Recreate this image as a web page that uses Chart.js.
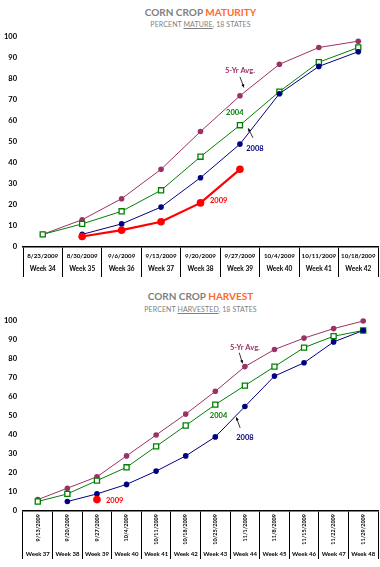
<!DOCTYPE html>
<html>
<head>
<meta charset="utf-8">
<script src="https://cdn.jsdelivr.net/npm/chart.js@4"></script>
<style>
  body { margin: 0; background: #fff; width: 380px; height: 567px; overflow: hidden; position: relative; font-family: Lato, sans-serif; }
  canvas { position: absolute; left: 0; }
  .title { position: absolute; left: 23px; width: 355px; text-align: center; font-weight: bold; font-size: 10px; color: #7f7f7f; line-height: 12px; }
  .title span { color: #ff6a2b; }
  .sub { position: absolute; left: 23px; width: 355px; text-align: center; font-size: 7px; color: #7f7f7f; line-height: 10px; letter-spacing: 0.1px; }
  .sub u { text-decoration: underline; }
</style>
</head>
<body>
<div class="title" style="top:6px">CORN CROP <span>MATURITY</span></div>
<div class="sub" style="top:19px">PERCENT <u>MATURE</u>, 18 STATES</div>
<canvas id="maturity" width="380" height="283" style="top:0"></canvas>

<div class="title" style="top:290px">CORN CROP <span>HARVEST</span></div>
<div class="sub" style="top:304px">PERCENT <u>HARVESTED</u>, 18 STATES</div>
<canvas id="harvest" width="380" height="284" style="top:283px"></canvas>

<script>
// maturity, weeks 34-42
const matWeeks = ['Week 34', 'Week 35', 'Week 36', 'Week 37', 'Week 38', 'Week 39', 'Week 40', 'Week 41', 'Week 42'];
const matDates = ['8/23/2009', '8/30/2009', '9/6/2009', '9/13/2009', '9/20/2009', '9/27/2009', '10/4/2009', '10/11/2009', '10/18/2009'];
const matAvg = [6, 13, 23, 37, 55, 72, 87, 95, 98];
const mat2004 = [6, 11, 17, 27, 43, 58, 74, 88, 95];
const mat2008 = [null, 6, 11, 19, 33, 49, 73, 86, 93];
const mat2009 = [null, 5, 8, 12, 21, 37, null, null, null];

// harvest, weeks 37-48
const harWeeks = ['Week 37', 'Week 38', 'Week 39', 'Week 40', 'Week 41', 'Week 42', 'Week 43', 'Week 44', 'Week 45', 'Week 46', 'Week 47', 'Week 48'];
const harDates = ['9/13/2009', '9/20/2009', '9/27/2009', '10/4/2009', '10/11/2009', '10/18/2009', '10/25/2009', '11/1/2009', '11/8/2009', '11/15/2009', '11/22/2009', '11/29/2009'];
const harAvg = [6, 12, 18, 29, 40, 51, 63, 76, 85, 91, 96, 100];
const har2004 = [5, 9, 16, 23, 34, 45, 56, 66, 76, 86, 92, 95];
const har2008 = [null, 5, 9, 14, 21, 29, 39, 55, 71, 78, 89, 95];
const har2009 = [null, null, 6, null, null, null, null, null, null, null, null, null];

const C_AVG = '#993366';
const C_04 = '#008000';
const C_08 = '#000080';
const C_09 = '#ff0000';

const FONT = 'Lato, sans-serif';

// draws the date / week table under the plot and the series notes
const tablePlugin = (cfg) => ({
    id: 'tableAxis',
    afterDraw(chart) {
        const ctx = chart.ctx;
        const x = chart.scales.x, y = chart.scales.y;
        ctx.save();
        ctx.fillStyle = '#000';
        ctx.textBaseline = 'middle';
        cfg.dates.forEach((d, i) => {
            const px = x.getPixelForValue(i);
            if (cfg.rotate) {
                ctx.font = 'bold 5.5px ' + FONT;
                ctx.save();
                ctx.translate(px, x.top + cfg.dateY);
                ctx.rotate(-Math.PI / 2);
                ctx.textAlign = 'right';
                ctx.fillText(d, 0, 0);
                ctx.restore();
            } else {
                ctx.font = 'bold 6.2px ' + FONT;
                ctx.textAlign = 'center';
                ctx.fillText(d, px, x.top + cfg.dateY);
            }
            ctx.font = 'bold ' + cfg.weekSize + 'px ' + FONT;
            ctx.textAlign = 'center';
            ctx.fillText(cfg.weeks[i], px, x.top + cfg.weekY);
        });

        // notes
        ctx.font = 'bold 7.5px ' + FONT;
        cfg.notes.forEach(n => {
            ctx.fillStyle = n.color;
            ctx.textAlign = 'center';
            ctx.fillText(n.text, x.getPixelForValue(n.at[0]), y.getPixelForValue(n.at[1]));
            if (n.arrow) {
                const x1 = x.getPixelForValue(n.arrow[0]), y1 = y.getPixelForValue(n.arrow[1]);
                const x2 = x.getPixelForValue(n.arrow[2]), y2 = y.getPixelForValue(n.arrow[3]);
                ctx.strokeStyle = '#000';
                ctx.lineWidth = 0.8;
                ctx.beginPath();
                ctx.moveTo(x1, y1);
                ctx.lineTo(x2, y2);
                ctx.stroke();
                const a = Math.atan2(y2 - y1, x2 - x1);
                ctx.fillStyle = '#000';
                ctx.beginPath();
                ctx.moveTo(x2, y2);
                ctx.lineTo(x2 - 3.5 * Math.cos(a - 0.45), y2 - 3.5 * Math.sin(a - 0.45));
                ctx.lineTo(x2 - 3.5 * Math.cos(a + 0.45), y2 - 3.5 * Math.sin(a + 0.45));
                ctx.closePath();
                ctx.fill();
            }
        });
        ctx.restore();
    }
});

const makeSets = (avg, d04, d08, d09) => [
    { label: '2009', data: d09, borderColor: C_09, backgroundColor: C_09, borderWidth: 2.2,
      pointStyle: 'circle', pointRadius: 3.8, pointBorderWidth: 0, clip: false },
    { label: '2008', data: d08, borderColor: C_08, backgroundColor: C_08, borderWidth: 1,
      pointStyle: 'circle', pointRadius: 2.8, pointBorderWidth: 0, clip: false },
    { label: '2004', data: d04, borderColor: C_04, backgroundColor: '#fff', borderWidth: 1,
      pointStyle: 'rect', pointRadius: 3.6, pointBorderWidth: 1.3, pointBorderColor: C_04, clip: false },
    { label: '5-Yr Avg.', data: avg, borderColor: C_AVG, backgroundColor: C_AVG, borderWidth: 1,
      pointStyle: 'circle', pointRadius: 2.8, pointBorderWidth: 0, clip: false }
];

const makeChart = (id, labels, sets, padding, axisHeight, cfg) => new Chart(document.getElementById(id), {
    type: 'line',
    data: { labels: labels, datasets: sets },
    options: {
        responsive: false,
        animation: false,
        layout: { padding: padding, autoPadding: false },
        plugins: { legend: { display: false }, tooltip: { enabled: false }, title: { display: false } },
        elements: { line: { tension: 0 } },
        scales: {
            x: {
                type: 'category',
                offset: true,
                grid: { offset: true, drawOnChartArea: false, drawTicks: true, tickLength: axisHeight, color: '#000', lineWidth: 1 },
                border: { display: true, color: '#000', width: 1.5 },
                ticks: { display: false },
                afterFit: (s) => { s.height = axisHeight; }
            },
            y: {
                min: 0, max: 100,
                grid: { display: false, drawTicks: false },
                border: { display: false },
                ticks: { stepSize: 10, padding: 6, color: '#000', font: { family: FONT, weight: 'bold', size: 7.5 } },
                afterFit: (s) => { s.width = 23; }
            }
        }
    },
    plugins: [tablePlugin(cfg)]
});

makeChart('maturity', matWeeks, makeSets(matAvg, mat2004, mat2008, mat2009),
    { top: 37, right: 2, bottom: 6, left: 0 }, 30, {
        dates: matDates, weeks: matWeeks, rotate: false, dateY: 9, weekY: 22, weekSize: 6.5,
        notes: [
            { text: '5-Yr Avg.', color: C_AVG, at: [5.0, 84], arrow: [5.0, 81, 5.1, 76] },
            { text: '2004', color: C_04, at: [4.87, 64] },
            { text: '2008', color: C_08, at: [5.38, 47], arrow: [5.33, 52, 5.21, 56.5] },
            { text: '2009', color: C_09, at: [4.46, 22] }
        ]
    });

makeChart('harvest', harWeeks, makeSets(harAvg, har2004, har2008, har2009),
    { top: 38, right: 2, bottom: 8, left: 0 }, 48, {
        dates: harDates, weeks: harWeeks, rotate: true, dateY: 3, weekY: 43, weekSize: 6,
        notes: [
            { text: '5-Yr Avg.', color: C_AVG, at: [7.0, 86], arrow: [6.81, 83.3, 6.92, 77.7] },
            { text: '2004', color: C_04, at: [6.11, 50.4] },
            { text: '2008', color: C_08, at: [7.0, 38.6], arrow: [6.84, 43.7, 6.71, 49.3] },
            { text: '2009', color: C_09, at: [2.6, 5.4] }
        ]
    });
</script>
</body>
</html>
